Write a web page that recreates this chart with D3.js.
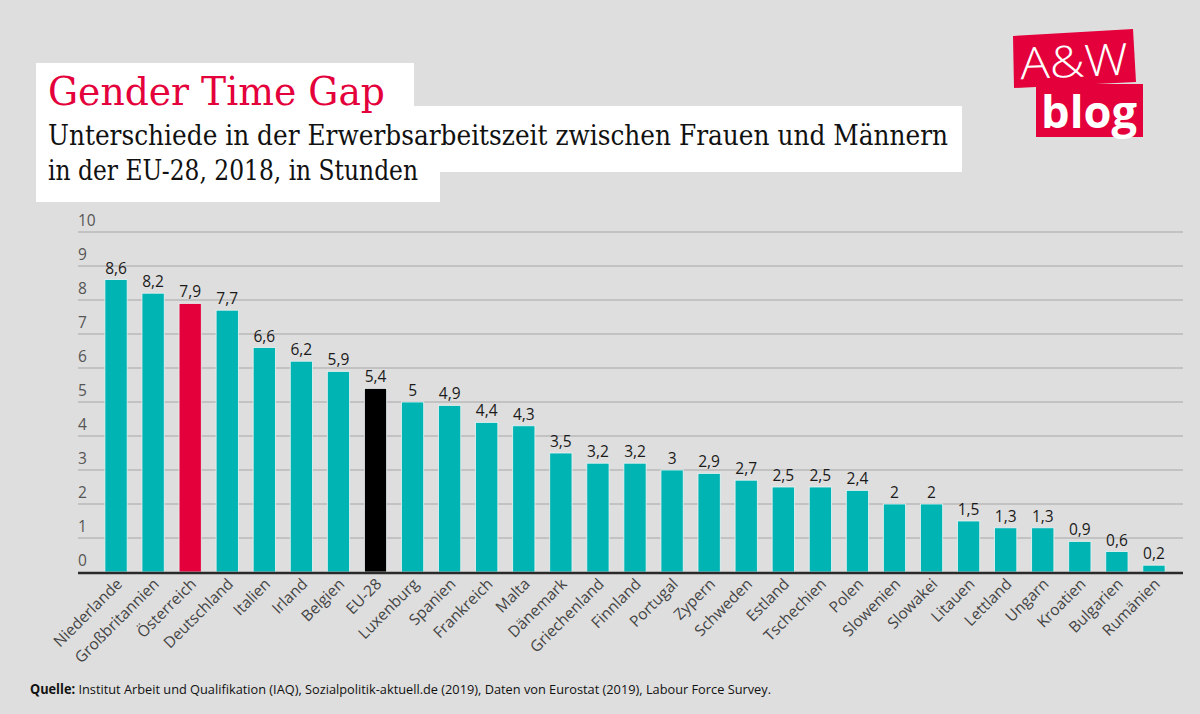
<!DOCTYPE html>
<html><head><meta charset="utf-8">
<script src="https://cdn.jsdelivr.net/npm/d3@7"></script>
<style>html,body{margin:0;padding:0;background:#dedede;}svg{display:block;}</style>
</head><body>
<script>
const categories = ["Niederlande","Großbritannien","Österreich","Deutschland","Italien","Irland","Belgien","EU-28","Luxenburg","Spanien","Frankreich","Malta","Dänemark","Griechenland","Finnland","Portugal","Zypern","Schweden","Estland","Tschechien","Polen","Slowenien","Slowakei","Litauen","Lettland","Ungarn","Kroatien","Bulgarien","Rumänien"];
const values = [8.6,8.2,7.9,7.7,6.6,6.2,5.9,5.4,5,4.9,4.4,4.3,3.5,3.2,3.2,3,2.9,2.7,2.5,2.5,2.4,2,2,1.5,1.3,1.3,0.9,0.6,0.2];
const highlight = {"Österreich":"#e4003b","EU-28":"#000000"};
const yTicks = [0,1,2,3,4,5,6,7,8,9,10];
const titleText = "Gender Time Gap";
const subtitleLines = ["Unterschiede in der Erwerbsarbeitszeit zwischen Frauen und Männern","in der EU-28, 2018, in Stunden"];
const sourceBold = "Quelle:";
const sourceText = " Institut Arbeit und Qualifikation (IAQ), Sozialpolitik-aktuell.de (2019), Daten von Eurostat (2019), Labour Force Survey.";

const W = 1200, H = 714;
const svg = d3.select("body").append("svg").attr("width", W).attr("height", H);
svg.append("rect").attr("width", W).attr("height", H).attr("fill", "#dedede");

const x = d3.scaleBand().domain(categories).range([97.5, 1172.5]).paddingInner(0.4).paddingOuter(0.2);
const y = d3.scaleLinear().domain([0, 10]).range([572, 232]);

// gridlines
svg.append("g").selectAll("line").data(yTicks.filter(d => d > 0)).join("line")
  .attr("x1", 78).attr("x2", 1183)
  .attr("y1", d => y(d)).attr("y2", d => y(d))
  .attr("stroke", "#b9b9b9").attr("stroke-width", 1.3);

// tick labels
svg.append("g").selectAll("text").data(yTicks).join("text")
  .attr("x", 78).attr("y", d => y(d) - 6)
  .attr("font-family", "'Open Sans', sans-serif").attr("font-size", 15.5)
  .attr("fill", "#555").text(d => d);

// bars
svg.append("g").selectAll("rect").data(categories).join("rect")
  .attr("x", d => x(d)).attr("width", x.bandwidth())
  .attr("y", (d, i) => y(values[i])).attr("height", (d, i) => y(0) - y(values[i]))
  .attr("fill", d => highlight[d] || "#00b4b4")
  .attr("stroke", "#e8f4f4").attr("stroke-width", 0.8);

// value labels
svg.append("g").selectAll("text").data(categories).join("text")
  .attr("x", d => x(d) + x.bandwidth() / 2).attr("y", (d, i) => y(values[i]) - 6)
  .attr("text-anchor", "middle")
  .attr("font-family", "'Open Sans', sans-serif").attr("font-size", 15.5)
  .attr("fill", "#1a1a1a").text((d, i) => String(values[i]).replace(".", ","));

// zero axis
svg.append("line").attr("x1", 78).attr("x2", 1183).attr("y1", y(0) + 1).attr("y2", y(0) + 1)
  .attr("stroke", "#2a2a2a").attr("stroke-width", 2.6);

// x labels
svg.append("g").selectAll("text").data(categories).join("text")
  .attr("transform", d => `translate(${x(d) + x.bandwidth() / 2 + 7},${585}) rotate(-45)`)
  .attr("text-anchor", "end")
  .attr("font-family", "'Open Sans', sans-serif").attr("font-size", 15.5)
  .attr("fill", "#444").text(d => d);

// title boxes
svg.append("rect").attr("x", 36).attr("y", 63).attr("width", 378).attr("height", 44).attr("fill", "#fff");
svg.append("rect").attr("x", 36).attr("y", 106).attr("width", 926).attr("height", 66).attr("fill", "#fff");
svg.append("rect").attr("x", 36).attr("y", 171).attr("width", 404).attr("height", 31).attr("fill", "#fff");

svg.append("text").attr("x", 48).attr("y", 105)
  .attr("font-family", "'DejaVu Serif', serif").attr("font-size", 39)
  .attr("fill", "#e4003b").attr("textLength", 337).attr("lengthAdjust", "spacingAndGlyphs")
  .text(titleText);
svg.append("text").attr("x", 48).attr("y", 145)
  .attr("font-family", "'DejaVu Serif', serif").attr("font-size", 27)
  .attr("fill", "#111").attr("textLength", 900).attr("lengthAdjust", "spacingAndGlyphs")
  .text(subtitleLines[0]);
svg.append("text").attr("x", 48).attr("y", 180)
  .attr("font-family", "'DejaVu Serif', serif").attr("font-size", 27)
  .attr("fill", "#111").attr("textLength", 370).attr("lengthAdjust", "spacingAndGlyphs")
  .text(subtitleLines[1]);

// logo
const logo = svg.append("g");
logo.append("path").attr("d", "M1013,36 L1133,29 L1136,82 L1014,88 Z").attr("fill", "#e4003b");
logo.append("rect").attr("x", 1036).attr("y", 84).attr("width", 107).attr("height", 53).attr("fill", "#e4003b");
logo.append("text").attr("x", 1074).attr("y", 77).attr("text-anchor", "middle")
  .attr("font-family", "'Open Sans', sans-serif").attr("font-weight", 300).attr("font-size", 44)
  .attr("fill", "#fff").attr("transform", "rotate(-2.5,1074,60)").attr("textLength", 108).attr("lengthAdjust", "spacingAndGlyphs").text("A&W");
logo.append("text").attr("x", 1089).attr("y", 128).attr("text-anchor", "middle")
  .attr("font-family", "'Open Sans', sans-serif").attr("font-weight", 700).attr("font-size", 44)
  .attr("fill", "#fff").attr("textLength", 96).attr("lengthAdjust", "spacingAndGlyphs").text("blog");

// source
const src = svg.append("text").attr("x", 30).attr("y", 694)
  .attr("font-family", "'Open Sans', sans-serif").attr("font-size", 13.5).attr("fill", "#111")
  .attr("textLength", 741).attr("lengthAdjust", "spacingAndGlyphs");
src.append("tspan").attr("font-weight", 700).text(sourceBold);
src.append("tspan").text(sourceText);
</script>
</body></html>
